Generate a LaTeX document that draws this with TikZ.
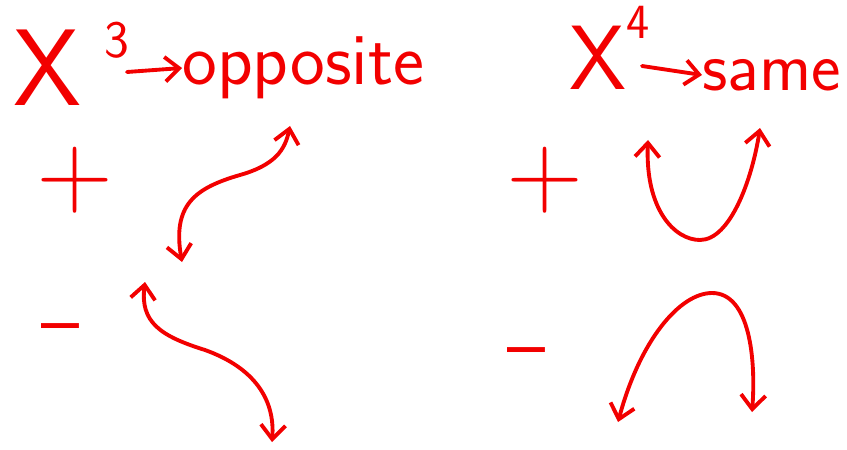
\documentclass[tikz,border=0pt]{standalone}
\usetikzlibrary{arrows.meta,positioning}
\definecolor{inkred}{HTML}{F20000}
\begin{document}
\begin{tikzpicture}[x=0.02cm,y=-0.02cm,
  pen/.style={inkred, line width=2.2pt, line cap=round, line join=round},
  barb/.style={-{Straight Barb[length=8pt,width=14pt]}},
  barbs/.style={{Straight Barb[length=8pt,width=14pt]}-{Straight Barb[length=8pt,width=14pt]}},
  plus/.style={font=\sffamily\fontsize{60}{60}\selectfont},
  minus/.style={font=\sffamily\fontsize{46}{46}\selectfont},
  every node/.style={inkred, inner sep=0pt, font=\sffamily}]
  \useasboundingbox (0,0) rectangle (847,449);
  % odd power
  \node (xodd) at (48,68) {\fontsize{62}{62}\selectfont X};
  \node (podd) at (117,40) {\fontsize{30}{30}\selectfont 3};
  \node[anchor=west] (opp) at (182,68) {\fontsize{42}{42}\selectfont opposite};
  \draw[pen,barb] (127,72) coordinate (ta) -- (opp.west);
  \node[plus] (plodd) at (75,180) {+};
  \node[minus] (miodd) at (60,336) {--};
  \coordinate (c1) at (182,262);
  \coordinate (c2) at (290,126);
  \coordinate (d1) at (145,282);
  \coordinate (d2) at (272,442);
  \draw[pen,barbs] (c1) .. controls (172,205) and (195,188) .. (240,175)
                        .. controls (275,165) and (285,150) .. (c2);
  \draw[pen,barbs] (d1) .. controls (140,322) and (160,336) .. (205,350)
                        .. controls (255,368) and (275,400) .. (d2);
  % even power
  \node (xeven) at (598,58) {\fontsize{52}{52}\selectfont X};
  \node (peven) at (638,22) {\fontsize{28}{28}\selectfont 4};
  \node[anchor=west] (same) at (702,75) {\fontsize{40}{40}\selectfont same};
  \draw[pen,barb] (642,66) coordinate (tb) -- (same.west);
  \node[plus] (pleven) at (545,180) {+};
  \node[minus] (mieven) at (526,360) {--};
  \coordinate (u1) at (648,140);
  \coordinate (u2) at (760,128);
  \coordinate (n1) at (618,422);
  \coordinate (n2) at (752,412);
  \draw[pen,barbs] (u1) .. controls (645,210) and (675,240) .. (700,240)
                        .. controls (730,240) and (752,180) .. (u2);
  \draw[pen,barbs] (n1) .. controls (640,340) and (680,293) .. (712,293)
                        .. controls (750,293) and (756,360) .. (n2);
\end{tikzpicture}
\end{document}
